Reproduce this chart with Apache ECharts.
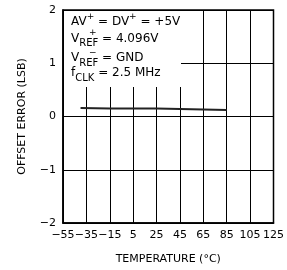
<!DOCTYPE html>
<html>
<head>
<meta charset="utf-8">
<script src="https://cdn.jsdelivr.net/npm/echarts@6/dist/echarts.min.js"></script>
<style>html,body{margin:0;padding:0;background:#fff}#c{width:287px;height:270px}</style>
</head>
<body>
<div id="c"></div>
<script>
const xTicks = [-55, -35, -15, 5, 25, 45, 65, 85, 105, 125];
const yTicks = [-2, -1, 0, 1, 2];
const temps = [-40, -15, 5, 25, 45, 65, 85];
const offsetErr = [0.16, 0.15, 0.15, 0.15, 0.14, 0.13, 0.12];
const xName = 'TEMPERATURE (°C)';
const yName = 'OFFSET ERROR (LSB)';

const F = 'DejaVu Sans';
const fmt = v => String(v).replace('-', '\u2212');
const rich = {
  m: {fontFamily: F, fontSize: 12, color: '#000', lineHeight: 20},
  s: {fontFamily: F, fontSize: 10, color: '#000', lineHeight: 10, verticalAlign: 'bottom'},
  p: {fontFamily: F, fontSize: 9, color: '#000', lineHeight: 10, verticalAlign: 'top'}
};
const chart = echarts.init(document.getElementById('c'), null, {renderer: 'canvas'});
chart.setOption({
  animation: false,
  backgroundColor: '#fff',
  grid: {left: 63, right: 9, top: 10, bottom: 46, show: true, borderColor: '#000', borderWidth: 1.5},
  xAxis: {
    type: 'value', min: xTicks[0], max: xTicks[xTicks.length - 1], interval: 20,
    name: xName, nameLocation: 'middle', nameGap: 31,
    nameTextStyle: {fontFamily: F, fontSize: 11, color: '#000'},
    axisLine: {onZero: false, lineStyle: {color: '#000', width: 1.5}},
    axisTick: {show: false},
    axisLabel: {fontFamily: F, fontSize: 11, color: '#000', margin: 7, formatter: fmt},
    splitLine: {show: true, lineStyle: {color: '#000', width: 1}}
  },
  yAxis: {
    type: 'value', min: yTicks[0], max: yTicks[yTicks.length - 1], interval: 1,
    name: yName, nameLocation: 'middle', nameGap: 35,
    nameTextStyle: {fontFamily: F, fontSize: 11, color: '#000'},
    axisLine: {show: true, onZero: false, lineStyle: {color: '#000', width: 1.5}},
    axisTick: {show: false},
    axisLabel: {fontFamily: F, fontSize: 11, color: '#000', margin: 7, formatter: fmt},
    splitLine: {show: true, lineStyle: {color: '#000', width: 1}}
  },
  series: [{
    type: 'line', data: temps.map((t, i) => [t, offsetErr[i]]),
    symbol: 'none', lineStyle: {color: '#222', width: 2}, z: 3
  }],
  graphic: [
    {type: 'rect', shape: {x: 64, y: 11, width: 117, height: 76}, style: {fill: '#fff'}, z: 10},
    {type: 'text', x: 71, y: 12, z: 11, style: {text: '{m|AV}{p|+}{m| = DV}{p|+}{m| = +5V}', rich: rich}},
    {type: 'text', x: 71, y: 28.5, z: 11, style: {text: '{m|V}{s|REF}{m| = 4.096V}', rich: rich}},
    {type: 'text', x: 89, y: 28.5, z: 11, style: {text: '{p|+}', rich: rich}},
    {type: 'text', x: 71, y: 48, z: 11, style: {text: '{m|V}{s|REF}{m| = GND}', rich: rich}},
    {type: 'text', x: 89, y: 48, z: 11, style: {text: '{p|\u2212}', rich: rich}},
    {type: 'text', x: 71, y: 63, z: 11, style: {text: '{m|f}{s|CLK}{m| = 2.5 MHz}', rich: rich}}
  ]
});
</script>
</body>
</html>
